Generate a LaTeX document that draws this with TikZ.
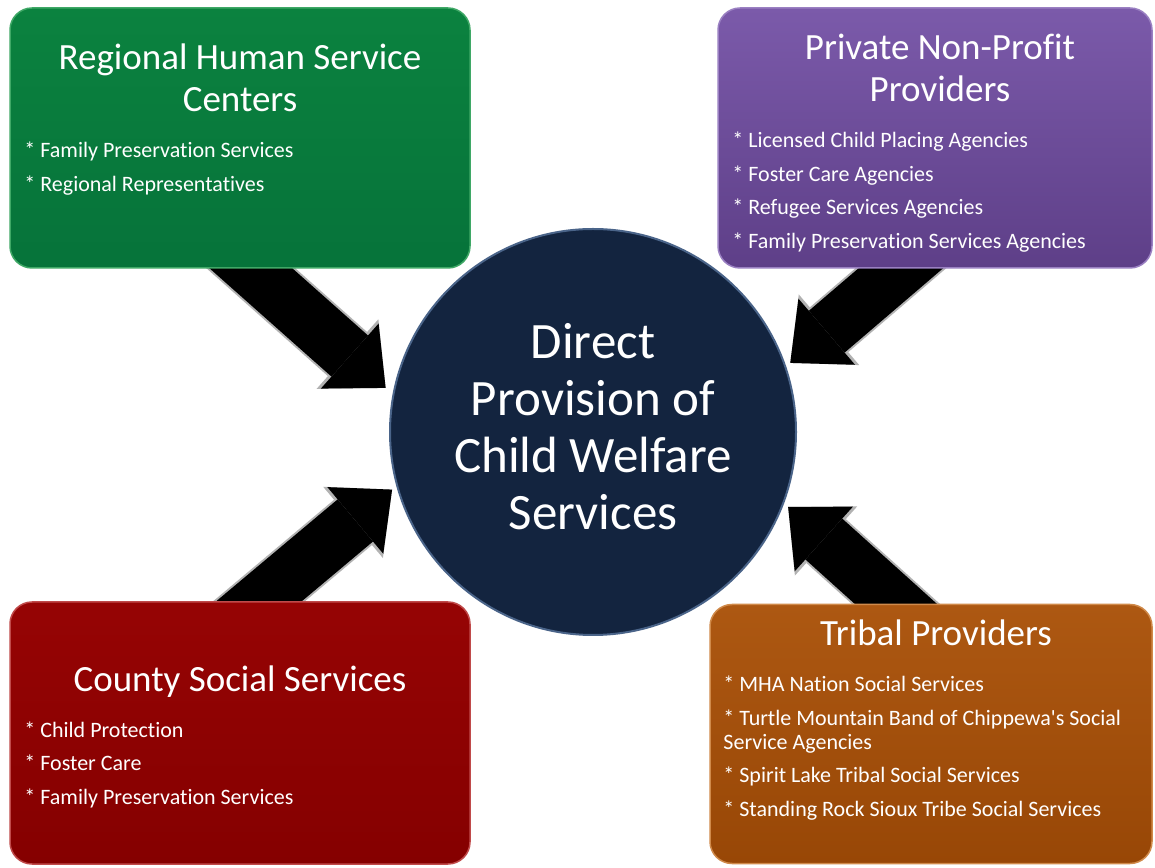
\documentclass[tikz,border=0pt]{standalone}
\usepackage{fontspec}
\setmainfont{Carlito}[Ligatures={NoCommon}]
\usetikzlibrary{positioning,arrows.meta,calc,backgrounds}
\definecolor{cGreenT}{HTML}{0B823F}
\definecolor{cGreenB}{HTML}{06733A}
\definecolor{cGreenE}{HTML}{3FA866}
\definecolor{cPurpleT}{HTML}{7B5AAA}
\definecolor{cPurpleB}{HTML}{5E3F88}
\definecolor{cPurpleE}{HTML}{9A80C2}
\definecolor{cRedT}{HTML}{960404}
\definecolor{cRedB}{HTML}{850000}
\definecolor{cRedE}{HTML}{C04A4A}
\definecolor{cOrangeT}{HTML}{AD5812}
\definecolor{cOrangeB}{HTML}{984706}
\definecolor{cOrangeE}{HTML}{D08A4A}
\definecolor{cHub}{HTML}{13243F}
\definecolor{cHubE}{HTML}{4A6489}

\begin{document}
\begin{tikzpicture}[
  x=1pt,y=1pt,
  block/.style={rounded corners=22pt,line width=1.5pt,inner sep=0pt},
  greenbox/.style ={block,top color=cGreenT,bottom color=cGreenB,draw=cGreenE},
  purplebox/.style={block,top color=cPurpleT,bottom color=cPurpleB,draw=cPurpleE},
  redbox/.style   ={block,top color=cRedT,bottom color=cRedB,draw=cRedE},
  orangebox/.style={block,top color=cOrangeT,bottom color=cOrangeB,draw=cOrangeE},
  hub/.style={circle,fill=cHub,draw=cHubE,line width=2pt,minimum size=406pt,inner sep=0pt},
  hubtext/.style={text=white,font=\fontsize{51}{57}\selectfont,align=center,anchor=base},
  title/.style={text=white,font=\fontsize{37}{41.5}\selectfont,align=center,anchor=base},
  items/.style={text=white,font=\fontsize{22}{24}\selectfont,align=left,anchor=base west,inner sep=0pt},
  fatarrow/.style={line width=55pt,draw=black,-{Triangle[length=48pt,width=87pt,line width=0pt]},
    preaction={draw=gray!60,line width=59pt,-{Triangle[length=51pt,width=93pt,line width=0pt]}}},
]
\useasboundingbox (0,0) rectangle (1155,867);

% boxes
\node[greenbox,minimum width=460pt,minimum height=260pt]  (rhsc) at (240,729) {};
\node[purplebox,minimum width=434pt,minimum height=260pt] (pnp)  at (935,729) {};
\node[redbox,minimum width=460pt,minimum height=262pt]    (css)  at (240,134) {};
\node[orangebox,minimum width=442pt,minimum height=259pt] (tp)   at (931,133) {};

% centre (base = last line)
\node[hub] (dp) at (593,435) {};
\node[hubtext] (dpText) at ($(dp.center)+(0,-98)$)
  {Direct\\Provision of\\Child Welfare\\Services};

% titles
\node[title] (rhscTitle) at ($(rhsc.north)+(0,-104)$) {Regional Human Service\\Centers};
\node[title] (pnpTitle)  at ($(pnp.north)+(5,-94)$)   {Private Non-Profit\\Providers};
\node[title] (cssTitle)  at ($(css.north)+(0,-90)$)   {County Social Services};
\node[title] (tpTitle)   at ($(tp.north)+(5,-42)$)    {Tribal Providers};

% lists
\node[items] (rhscList) at ($(rhsc.north west)+(15,-184)$)
  {* Family Preservation Services\\[10pt]
   * Regional Representatives};
\node[items] (pnpList) at ($(pnp.north west)+(15,-241)$)
  {* Licensed Child Placing Agencies\\[9.5pt]
   * Foster Care Agencies\\[9.5pt]
   * Refugee Services Agencies\\[9.5pt]
   * Family Preservation Services Agencies};
\node[items] (cssList) at ($(css.north west)+(15,-203)$)
  {* Child Protection\\[9.5pt]
   * Foster Care\\[9.5pt]
   * Family Preservation Services};
\node[items] (tpList) at ($(tp.north west)+(14,-212.5)$)
  {* MHA Nation Social Services\\[9.5pt]
   * Turtle Mountain Band of Chippewa\textquotesingle s Social\\
   Service Agencies\\[9.5pt]
   * Spirit Lake Tribal Social Services\\[9.5pt]
   * Standing Rock Sioux Tribe Social Services};

% arrows, behind the boxes
\coordinate (rhscFoot) at ($(rhsc.south)+(-19,27)$);
\coordinate (pnpFoot)  at ($(pnp.south)+(-2,28)$);
\coordinate (cssFoot)  at ($(css.north)+(-12,-26)$);
\coordinate (tpFoot)   at ($(tp.north)+(-2,-30)$);

\begin{scope}[on background layer]
  \fill[white] (0,0) rectangle (1155,867);
  \draw[fatarrow] (rhscFoot) -- ($(dp.center)+(168:212)$);
  \draw[fatarrow] (pnpFoot)  -- ($(dp.center)+(19.3:209)$);
  \draw[fatarrow] (cssFoot)  -- ($(dp.center)+(196:209)$);
  \draw[fatarrow] (tpFoot)   -- ($(dp.center)+(339:209)$);
\end{scope}
\end{tikzpicture}
\end{document}
